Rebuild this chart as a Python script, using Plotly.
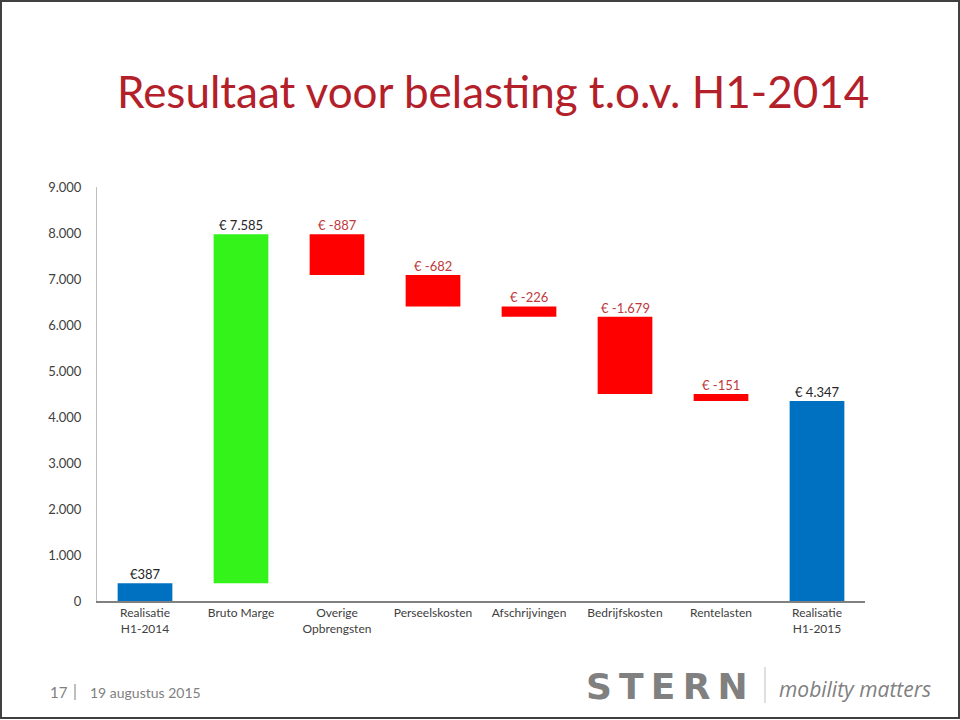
import plotly.graph_objects as go

categories = ["Realisatie<br>H1-2014", "Bruto Marge", "Overige<br>Opbrengsten", "Perseelskosten",
              "Afschrijvingen", "Bedrijfskosten", "Rentelasten", "Realisatie<br>H1-2015"]
values = [387, 7585, -887, -682, -226, -1679, -151, 4347]
measures = ["total", "relative", "relative", "relative", "relative", "relative", "relative", "total"]
labels = ["€387", "€ 7.585", "€ -887", "€ -682", "€ -226", "€ -1.679", "€ -151", "€ 4.347"]
tick_vals = [0, 1000, 2000, 3000, 4000, 5000, 6000, 7000, 8000, 9000]
tick_text = ["0", "1.000", "2.000", "3.000", "4.000", "5.000", "6.000", "7.000", "8.000", "9.000"]

BLUE = "#0070C0"
GREEN = "#33F31A"
RED = "#FF0000"

bases, heights, colors, tops = [], [], [], []
running = 0
for v, m in zip(values, measures):
    if m == "total":
        running = v
        bases.append(0)
        heights.append(v)
        colors.append(BLUE)
        tops.append(v)
    else:
        start = running
        running = running + v
        bases.append(min(start, running))
        heights.append(abs(v))
        colors.append(GREEN if v > 0 else RED)
        tops.append(max(start, running))

fig = go.Figure()
fig.add_trace(go.Bar(x=categories, y=heights, base=bases, marker=dict(color=colors, line=dict(width=0)),
                     width=0.57, hoverinfo="skip"))

annotations = []
for c, t, lab, v in zip(categories, tops, labels, values):
    annotations.append(dict(x=c, y=t, xref="x", yref="y", text=lab, showarrow=False,
                            yanchor="bottom", yshift=-1,
                            font=dict(family="Lato, Open Sans, sans-serif", size=13,
                                      color="#C0393B" if v < 0 else "#262626")))

L, R, T, B = 97, 865, 187, 601
W, H = R - L, B - T
def px(x):
    return (x - L) / W
def py(y):
    return (B - y) / H

annotations += [
    dict(x=px(493), y=py(91), xref="paper", yref="paper", text="Resultaat voor belasting t.o.v. H1-2014",
         showarrow=False, xanchor="center", yanchor="middle",
         font=dict(family="Lato, Open Sans, sans-serif", size=44, color="#B3202A")),
    dict(x=px(48), y=py(692), xref="paper", yref="paper", text="17", showarrow=False,
         xanchor="left", yanchor="middle", font=dict(family="Lato, sans-serif", size=15, color="#7F7F7F")),
    dict(x=px(88), y=py(692), xref="paper", yref="paper", text="19 augustus 2015", showarrow=False,
         xanchor="left", yanchor="middle", font=dict(family="Lato, sans-serif", size=14, color="#7F7F7F")),
    dict(x=px(667), y=py(686), xref="paper", yref="paper", text="<b>S\u2009T\u2009E\u2009R\u2009N</b>", showarrow=False,
         xanchor="center", yanchor="middle", font=dict(family="DejaVu Sans, sans-serif", size=36, color="#808080")),
    dict(x=px(777), y=py(689), xref="paper", yref="paper", text="<i>mobility matters</i>", showarrow=False,
         xanchor="left", yanchor="middle", font=dict(family="Open Sans, sans-serif", size=21, color="#808080")),
]

shapes = [
    dict(type="rect", xref="paper", yref="paper", x0=px(1), x1=px(959), y0=py(718), y1=py(1),
         line=dict(color="#404040", width=2)),
    dict(type="line", xref="paper", yref="paper", x0=px(75), x1=px(75), y0=py(684), y1=py(700),
         line=dict(color="#7F7F7F", width=1)),
    dict(type="line", xref="paper", yref="paper", x0=px(765), x1=px(765), y0=py(667), y1=py(703),
         line=dict(color="#BFBFBF", width=1)),
]

fig.update_layout(
    width=960, height=720,
    margin=dict(l=L, r=960 - R, t=T, b=720 - B),
    paper_bgcolor="white", plot_bgcolor="white",
    showlegend=False, bargap=0.43,
    annotations=annotations, shapes=shapes,
    xaxis=dict(showline=True, linecolor="#808080", linewidth=1.5, ticks="", showgrid=False,
               tickfont=dict(family="Lato, Open Sans, sans-serif", size=12, color="#404040")),
    yaxis=dict(range=[0, 9000], tickvals=tick_vals, ticktext=tick_text, showline=True,
               linecolor="#BFBFBF", linewidth=1, showgrid=False, zeroline=False, ticks="",
               ticklabelstandoff=12,
               tickfont=dict(family="Lato, Open Sans, sans-serif", size=13, color="#404040")),
)

fig.write_html("out.html", config={"displayModeBar": False},
               post_script="document.body.style.margin='0';document.body.style.overflow='hidden';")
